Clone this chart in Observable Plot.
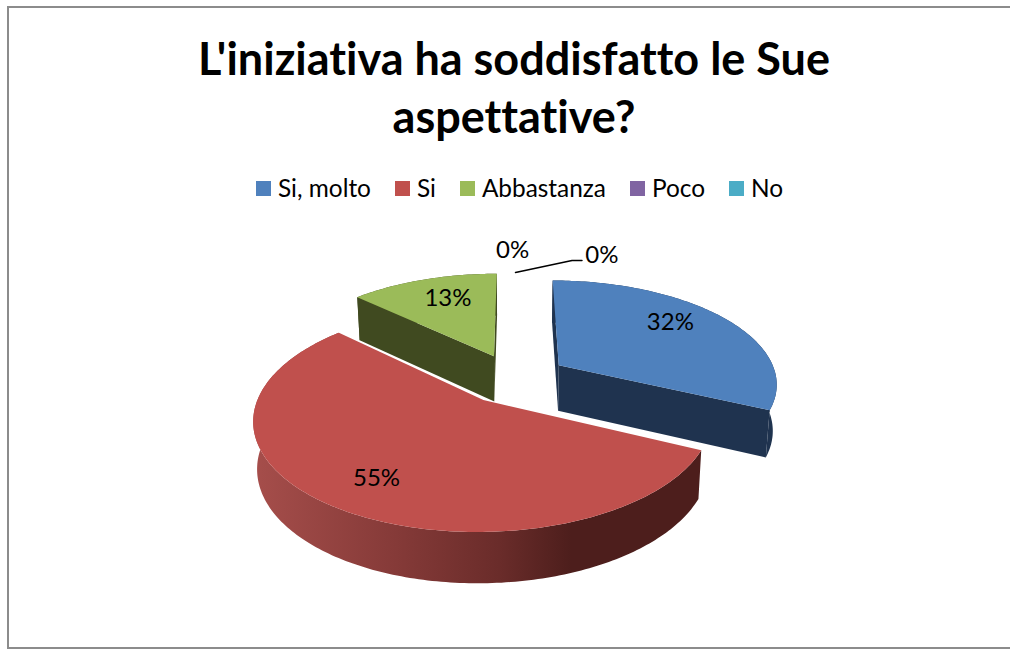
<!DOCTYPE html>
<html><head><meta charset="utf-8">
<script src="https://cdn.jsdelivr.net/npm/d3@7"></script>
<script src="https://cdn.jsdelivr.net/npm/@observablehq/plot@0.6"></script>
<style>
html,body{margin:0;padding:0;background:#fff;}
#frame{position:absolute;left:7px;top:6px;width:1010px;height:643px;box-sizing:border-box;border:2px solid #8c8c8c;border-right:none;overflow:hidden;}
#page{position:absolute;left:0;top:0;width:1010px;height:650px;overflow:hidden;font-family:Lato,sans-serif;color:#000;font-variant-ligatures:none;}
#title{position:absolute;left:0;top:29px;width:1028px;text-align:center;font-weight:700;font-size:45px;line-height:58px;}
#legend{position:absolute;left:256px;top:172px;display:flex;gap:24px;font-size:24.4px;line-height:32px;white-space:nowrap;}
#legend .item{display:flex;align-items:center;gap:7px;}
#legend .sw{width:15px;height:15px;display:inline-block;}
#chart{position:absolute;left:0;top:210px;}
#chart text{font-variant-ligatures:none;}
</style></head>
<body>
<div id="page">
<div id="frame"></div>
<div id="title">L'iniziativa ha soddisfatto le Sue<br>aspettative?</div>
<div id="legend"></div>
<div id="chart"></div>
</div>
<script>
// ---- data ----
const categories = ["Si, molto", "Si", "Abbastanza", "Poco", "No"];
const values = [32, 55, 13, 0, 0];
const colors = ["#4f81bd", "#c0504d", "#9bbb59", "#8064a2", "#4bacc6"];
const wallColors = ["#1f334f", "#4d1e1c", "#404a20"];
const labelPlaneU = [0.783, -0.545, -0.349, -0.011, 0.497];
const labelPlaneV = [-0.6, 0.841, -0.893, -1.567, -1.489];
const leaderU = [0.0055, 0.324, 0.38];
const leaderV = [-1.243, -1.415, -1.415];
const redWallStops = [["0%", "#a64e4b"], ["32%", "#853a38"], ["55%", "#6a2c2a"], ["71%", "#4d1e1c"], ["100%", "#4d1e1c"]];

// ---- a perspective view of the pie plane ----
const W = 1010, H = 440, TOP = 210;
const view = {cx: 514, cy: 378 - TOP, a: 218.5, b: 102.6, k: 0.163, depth: 46, shrink: 0.985, explode: 0.245};
function project(u, v, lower = false) {
  const w = 1 - view.k * v;
  const s = lower ? view.shrink : 1;
  return {
    x: view.cx + s * view.a * u / w,
    y: view.cy + view.b * v / w + (lower ? view.depth / Math.sqrt(w) : 0)
  };
}

const arcs = d3.pie().sort(null).startAngle(0).endAngle(2 * Math.PI)(values);
const visible = arcs.filter(d => d.value > 0);

function outline(d, lower) {
  const mid = (d.startAngle + d.endAngle) / 2;
  const ou = view.explode * Math.sin(mid), ov = -view.explode * Math.cos(mid);
  const n = Math.ceil((d.endAngle - d.startAngle) / (Math.PI / 180));
  const rim = d3.range(n + 1).map(i => {
    const t = d.startAngle + (d.endAngle - d.startAngle) * i / n;
    return project(ou + Math.sin(t), ov - Math.cos(t), lower);
  });
  return {apex: project(ou, ov, lower), rim};
}

const topRows = [], wallRows = [], redWallRows = [];
visible.forEach(d => {
  const i = d.index;
  const t = outline(d, false), b = outline(d, true);
  t.rim.concat([t.apex]).forEach(p => topRows.push({...p, z: i, fill: colors[i]}));
  const target = i === 1 ? redWallRows : wallRows;
  t.rim.forEach(p => target.push({...p, z: i + "-rim"}));
  b.rim.slice().reverse().forEach(p => target.push({...p, z: i + "-rim"}));
  if (i !== 1) {
    const first = [t.apex, t.rim[0], b.rim[0], b.apex];
    const last = [t.apex, t.rim[t.rim.length - 1], b.rim[b.rim.length - 1], b.apex];
    first.forEach(p => wallRows.push({...p, z: i + "-a"}));
    last.forEach(p => wallRows.push({...p, z: i + "-b"}));
  }
});
wallRows.forEach(r => { r.fill = wallColors[+String(r.z)[0]]; });

const labelRows = arcs.map((d, i) => ({
  ...project(labelPlaneU[i], labelPlaneV[i]),
  text: d3.format(".0f")(d.value) + "%"
}));
const leaderRows = leaderU.map((u, i) => project(u, leaderV[i]));

const gradientDefs = () => {
  const defs = d3.create("svg:defs");
  const g = defs.append("linearGradient").attr("id", "redWall");
  redWallStops.forEach(([o, c]) => g.append("stop").attr("offset", o).attr("stop-color", c));
  return defs.node();
};

const chart = Plot.plot({
  width: W, height: H,
  marginTop: 0, marginRight: 0, marginBottom: 0, marginLeft: 0,
  x: {domain: [0, W], axis: null},
  y: {domain: [0, H], reverse: true, axis: null},
  style: {background: "transparent", overflow: "visible"},
  marks: [
    gradientDefs,
    Plot.line(wallRows, {x: "x", y: "y", z: "z", fill: "fill", stroke: "none", curve: "linear-closed"}),
    Plot.line(redWallRows, {x: "x", y: "y", z: "z", fill: "url(#redWall)", stroke: "none", curve: "linear-closed"}),
    Plot.line(topRows, {x: "x", y: "y", z: "z", fill: "fill", stroke: "none", curve: "linear-closed"}),
    Plot.line(leaderRows, {x: "x", y: "y", stroke: "#000", strokeWidth: 1.5}),
    Plot.text(labelRows, {x: "x", y: "y", text: "text", fontSize: 24, fontFamily: "Lato, sans-serif", fill: "#000"})
  ]
});
document.getElementById("chart").appendChild(chart);

const legend = d3.select("#legend");
categories.forEach((c, i) => {
  const item = legend.append("div").attr("class", "item");
  item.append("span").attr("class", "sw").style("background", colors[i]);
  item.append("span").text(c);
});
</script>
</body></html>
